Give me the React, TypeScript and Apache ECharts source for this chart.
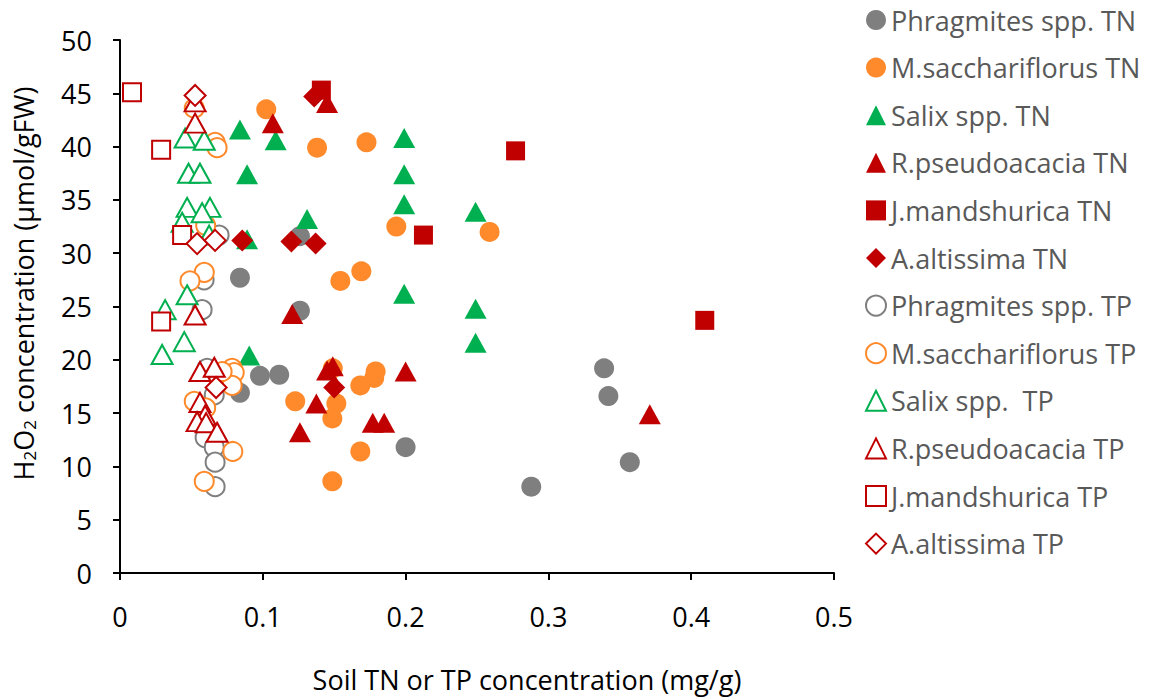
import { useEffect, useRef } from "react";
import * as echarts from "echarts";

// Soil TN / TP (mg/g) vs leaf H2O2 concentration (μmol/gFW)
const phragmitesTN: [number, number][] = [
  [0.339, 19.2], [0.342, 16.6], [0.357, 10.4], [0.288, 8.1], [0.2, 11.8],
  [0.098, 18.5], [0.1115, 18.6], [0.084, 16.9], [0.084, 27.7], [0.126, 24.6], [0.126, 31.6],
];
const saccharTN: [number, number][] = [
  [0.1024, 43.5], [0.138, 39.9], [0.1726, 40.4], [0.1935, 32.5], [0.2588, 32.0],
  [0.1543, 27.4], [0.169, 28.3], [0.1227, 16.1], [0.149, 19.2], [0.1515, 15.9],
  [0.1487, 14.5], [0.179, 18.9], [0.178, 18.3], [0.1683, 17.6], [0.1683, 11.4], [0.1487, 8.6],
];
const salixTN: [number, number][] = [
  [0.084, 41.6], [0.109, 40.6], [0.089, 37.4], [0.199, 40.8], [0.199, 37.4], [0.199, 34.6],
  [0.249, 33.9], [0.131, 33.2], [0.089, 31.3], [0.199, 26.2], [0.249, 24.8], [0.249, 21.6],
  [0.0905, 20.4],
];
const robiniaTN: [number, number][] = [
  [0.145, 44.1], [0.107, 42.2], [0.1206, 24.3], [0.145, 19.0], [0.149, 19.4], [0.2, 18.9],
  [0.1375, 15.9], [0.126, 13.2], [0.177, 14.1], [0.185, 14.1], [0.371, 14.9],
];
const juglansTN: [number, number][] = [
  [0.141, 45.3], [0.2125, 31.7], [0.277, 39.6], [0.4095, 23.7],
];
const ailanthusTN: [number, number][] = [
  [0.136, 44.7], [0.0856, 31.2], [0.12, 31.1], [0.137, 30.9], [0.15, 17.4],
];
const phragmitesTP: [number, number][] = [
  [0.0694, 31.7], [0.0589, 27.5], [0.0575, 24.7], [0.061, 19.2], [0.066, 16.7],
  [0.0596, 12.7], [0.066, 11.8], [0.0666, 10.4], [0.0666, 8.1],
];
const saccharTP: [number, number][] = [
  [0.052, 43.6], [0.0666, 40.4], [0.068, 39.9], [0.06, 32.6], [0.059, 28.2], [0.049, 27.4],
  [0.052, 16.1], [0.06, 15.5], [0.0785, 19.2], [0.08, 18.8], [0.0785, 17.6], [0.0715, 18.9],
  [0.079, 11.4], [0.059, 8.6],
];
const salixTP: [number, number][] = [
  [0.0456, 40.8], [0.059, 40.6], [0.048, 37.5], [0.056, 37.5], [0.047, 34.3], [0.063, 34.3],
  [0.0575, 33.8], [0.0435, 32.9], [0.0624, 31.7], [0.047, 26.1], [0.0316, 24.7], [0.045, 21.7],
  [0.0295, 20.5],
];
const robiniaTP: [number, number][] = [
  [0.0526, 44.2], [0.0526, 42.2], [0.0526, 24.2], [0.056, 18.9], [0.066, 19.3], [0.056, 16.0],
  [0.0596, 14.8], [0.054, 14.2], [0.0603, 14.1], [0.068, 13.2],
];
const juglansTP: [number, number][] = [
  [0.0084, 45.1], [0.0288, 39.7], [0.0435, 31.7], [0.0288, 23.6],
];
const ailanthusTP: [number, number][] = [
  [0.0526, 44.8], [0.054, 30.9], [0.0666, 31.2], [0.0673, 17.4],
];

const GRAY = "#7f7f7f";
const ORANGE = "#ff8a2b";
const GREEN = "#00b050";
const RED = "#c00000";

type Spec = {
  name: string;
  data: [number, number][];
  symbol: string;
  size: number | number[];
  color: string;
  hollow: boolean;
};

const specs: Spec[] = [
  { name: "Phragmites spp. TN", data: phragmitesTN, symbol: "circle", size: 20, color: GRAY, hollow: false },
  { name: "M.sacchariflorus TN", data: saccharTN, symbol: "circle", size: 20, color: ORANGE, hollow: false },
  { name: "Salix spp. TN", data: salixTN, symbol: "triangle", size: [22, 20], color: GREEN, hollow: false },
  { name: "R.pseudoacacia TN", data: robiniaTN, symbol: "triangle", size: [22, 20], color: RED, hollow: false },
  { name: "J.mandshurica TN", data: juglansTN, symbol: "rect", size: [19, 19], color: RED, hollow: false },
  { name: "A.altissima TN", data: ailanthusTN, symbol: "diamond", size: [22, 22], color: RED, hollow: false },
  { name: "Phragmites spp. TP", data: phragmitesTP, symbol: "circle", size: 19, color: GRAY, hollow: true },
  { name: "M.sacchariflorus TP", data: saccharTP, symbol: "circle", size: 19, color: ORANGE, hollow: true },
  { name: "Salix spp.  TP", data: salixTP, symbol: "triangle", size: [21, 19], color: GREEN, hollow: true },
  { name: "R.pseudoacacia TP", data: robiniaTP, symbol: "triangle", size: [21, 19], color: RED, hollow: true },
  { name: "J.mandshurica TP", data: juglansTP, symbol: "rect", size: [18, 18], color: RED, hollow: true },
  { name: "A.altissima TP", data: ailanthusTP, symbol: "diamond", size: [21, 21], color: RED, hollow: true },
];

const FONT = "'Open Sans', 'Noto Sans', sans-serif";
const FS = 27;

export default function App() {
  const ref = useRef<HTMLDivElement>(null);

  useEffect(() => {
    document.body.style.margin = "0";
    if (!ref.current) return;
    const chart = echarts.init(ref.current, undefined, { renderer: "svg" });

    const series = specs.map((s) => ({
      type: "scatter" as const,
      name: s.name,
      data: s.data,
      symbol: s.symbol,
      symbolSize: s.size,
      itemStyle: s.hollow
        ? { color: "#ffffff", borderColor: s.color, borderWidth: 2, opacity: 1 }
        : { color: s.color, borderWidth: 0, opacity: 1 },
      emphasis: { disabled: true },
    }));

    chart.setOption({
      animation: false,
      backgroundColor: "#ffffff",
      textStyle: { fontFamily: FONT },
      grid: { left: 120, top: 40, width: 714, height: 533, containLabel: false },
      xAxis: {
        type: "value",
        min: 0,
        max: 0.5,
        interval: 0.1,
        name: "Soil TN or TP concentration (mg/g)",
        nameLocation: "middle",
        nameGap: 93,
        nameTextStyle: { fontSize: FS, color: "#000", fontFamily: FONT, padding: [0, 0, 0, 100] },
        axisLine: { lineStyle: { color: "#000", width: 2 } },
        axisTick: { show: true, length: 7, lineStyle: { color: "#000", width: 2 } },
        axisLabel: { fontSize: FS, color: "#000", margin: 30, fontFamily: FONT },
        splitLine: { show: false },
      },
      yAxis: {
        type: "value",
        min: 0,
        max: 50,
        interval: 5,
        name: "{a|H}{s|2}{a|O}{s|2}{a| concentration (μmol/gFW)}",
        nameLocation: "middle",
        nameGap: 82,
        nameTextStyle: {
          fontFamily: FONT,
          color: "#000",
          padding: [0, 0, 0, 46],
          rich: {
            a: { fontSize: FS, color: "#000", fontFamily: FONT },
            s: { fontSize: 17, color: "#000", fontFamily: FONT, padding: [12, 0, 0, 0] },
          },
        },
        axisLine: { show: true, lineStyle: { color: "#000", width: 2 } },
        axisTick: { show: true, length: 7, lineStyle: { color: "#000", width: 2 } },
        axisLabel: { fontSize: FS, color: "#000", margin: 28, fontFamily: FONT },
        splitLine: { show: false },
      },
      legend: {
        orient: "vertical",
        left: 860,
        top: 0,
        itemGap: 17.6,
        itemWidth: 20,
        itemHeight: 20,
        selectedMode: false,
        textStyle: { fontSize: FS, lineHeight: 30, color: "#595959", fontFamily: FONT },
        data: specs.map((s) => s.name),
      },
      series,
    });

    return () => chart.dispose();
  }, []);

  return <div ref={ref} style={{ width: 1156, height: 700 }} />;
}
